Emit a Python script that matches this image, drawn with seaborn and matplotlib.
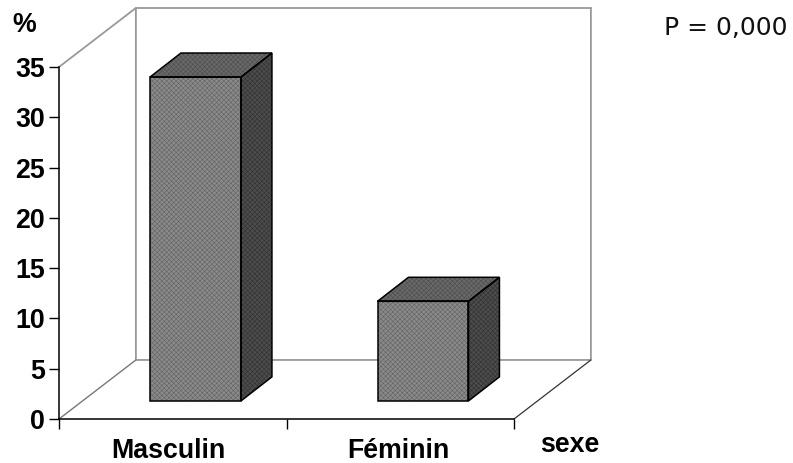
import seaborn as sns
import matplotlib.pyplot as plt
from matplotlib.patches import Polygon

sexe = ["Masculin", "Féminin"]
pourcent = [32.2, 9.9]
y_ticks = [0, 5, 10, 15, 20, 25, 30, 35]

# offsets of the fake 3D box, in data units
floor_y = 1.8
shift_x = 0.1
bar_dx, bar_dy = 0.136, 2.39
wall_dx, wall_dy = 0.338, 5.87

sns.set_style("white")
plt.rcParams["font.family"] = ["Liberation Sans", "DejaVu Sans"]
plt.rcParams["hatch.linewidth"] = 0.35

fig = plt.figure(figsize=(7.93, 4.63), dpi=100)
ax = fig.add_axes([59 / 793, 44 / 463, 455 / 793, 352 / 463])

sns.barplot(x=sexe, y=pourcent, bottom=floor_y, width=0.4, color="#8a8a8a",
            saturation=1, linewidth=0, ax=ax, zorder=3)
ax.set_xlim(-0.5, 1.5)
ax.set_ylim(0, 35)

# back wall and floor
x0, x1 = -0.5, 1.5
gray = "#999999"
ax.plot([x0, x0 + wall_dx, x0 + wall_dx, x1 + wall_dx, x1 + wall_dx],
        [35, 35 + wall_dy, wall_dy, wall_dy, 35 + wall_dy],
        color=gray, lw=1.3, clip_on=False, zorder=1)
ax.plot([x0 + wall_dx, x1 + wall_dx], [35 + wall_dy, 35 + wall_dy],
        color=gray, lw=1.3, clip_on=False, zorder=1)
ax.plot([x0, x0 + wall_dx], [0, wall_dy], color="#777777", lw=1, clip_on=False, zorder=1)
ax.plot([x1, x1 + wall_dx], [0, wall_dy], color="#333333", lw=0.9, clip_on=False, zorder=1)

# move bars back on the floor and add top and side faces
for bar in list(ax.patches):
    bar.set_x(bar.get_x() + shift_x)
    x = bar.get_x()
    w = bar.get_width()
    b = bar.get_y()
    t = b + bar.get_height()
    bar.set_edgecolor("#5e5e5e")
    bar.set_hatch("xxxxxxx")
    top = [(x, t), (x + bar_dx, t + bar_dy), (x + w + bar_dx, t + bar_dy), (x + w, t)]
    side = [(x + w, b), (x + w + bar_dx, b + bar_dy), (x + w + bar_dx, t + bar_dy), (x + w, t)]
    ax.add_patch(Polygon(top, fc="#686868", ec="#4a4a4a", hatch="xxxxxxx", lw=0,
                         clip_on=False, zorder=3))
    ax.add_patch(Polygon(side, fc="#4c4c4c", ec="#2e2e2e", hatch="xxxxxxx", lw=0,
                         clip_on=False, zorder=3))
    front = [(x, b), (x, t), (x + w, t), (x + w, b)]
    for face in (front, top, side):
        ax.add_patch(Polygon(face, fill=False, ec="black", lw=1.1, clip_on=False, zorder=4))

for side_name in ["top", "right"]:
    ax.spines[side_name].set_visible(False)
for side_name in ["left", "bottom"]:
    ax.spines[side_name].set_color("black")
    ax.spines[side_name].set_linewidth(1.1)

ax.set_yticks(y_ticks)
ax.set_yticklabels(y_ticks, fontsize=19.3, fontweight="bold", color="black")
ax.set_xticks([-0.02, 0.99])
ax.set_xticklabels(sexe, fontsize=19.3, fontweight="bold", color="black")
ax.set_xticks([-0.5, 0.5, 1.5], minor=True)
ax.tick_params(axis="x", which="major", length=0, pad=14)
ax.tick_params(axis="x", which="minor", length=7, width=1, color="black", bottom=True)
ax.tick_params(axis="y", length=7, width=1, color="black", pad=3, left=True)
ax.grid(False)
ax.set_xlabel("")

fig.text(24.5 / 793, 1 - 32 / 463, "%", fontsize=19.3, fontweight="bold", color="black",
         ha="center", va="baseline")
fig.text(569.5 / 793, 1 - 452 / 463, "sexe", fontsize=19.3, fontweight="bold", color="black",
         ha="center", va="baseline")
fig.text(725.5 / 793, 1 - 35 / 463, "P = 0,000", fontsize=18, family="DejaVu Sans",
         color="#111111", ha="center", va="baseline")

fig.savefig("out.png", dpi=100)
